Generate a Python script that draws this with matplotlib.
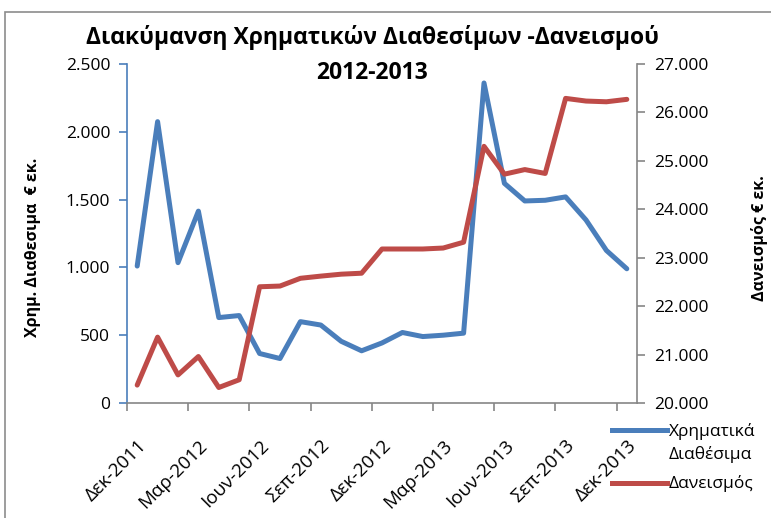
import matplotlib
matplotlib.use("Agg")
import matplotlib.pyplot as plt
import numpy as np
from matplotlib.ticker import FuncFormatter, FixedLocator, FixedFormatter, NullFormatter
from matplotlib.lines import Line2D
from matplotlib.patches import Rectangle

plt.rcParams['font.family'] = ['Open Sans', 'DejaVu Sans']

months = ["Δεκ-2011", "Ιαν-2012", "Φεβ-2012", "Μαρ-2012", "Απρ-2012", "Μαϊ-2012",
          "Ιουν-2012", "Ιουλ-2012", "Αυγ-2012", "Σεπ-2012", "Οκτ-2012", "Νοε-2012",
          "Δεκ-2012", "Ιαν-2013", "Φεβ-2013", "Μαρ-2013", "Απρ-2013", "Μαϊ-2013",
          "Ιουν-2013", "Ιουλ-2013", "Αυγ-2013", "Σεπ-2013", "Οκτ-2013", "Νοε-2013",
          "Δεκ-2013"]
cash = [1010, 2075, 1035, 1415, 630, 645, 365, 328, 600, 575, 455, 385, 443,
        520, 490, 500, 515, 2360, 1620, 1490, 1495, 1520, 1350, 1125, 990]
loans = [20370, 21360, 20580, 20960, 20320, 20480, 22400, 22415, 22575, 22620,
         22660, 22680, 23180, 23180, 23180, 23200, 23320, 25300, 24725, 24820,
         24740, 26290, 26235, 26220, 26270]
tick_labels = ["Δεκ-2011", "Μαρ-2012", "Ιουν-2012", "Σεπ-2012", "Δεκ-2012",
               "Μαρ-2013", "Ιουν-2013", "Σεπ-2013", "Δεκ-2013"]
series_names = ["Χρηματικά\nΔιαθέσιμα", "Δανεισμός"]

blue = "#4A7EBB"
red = "#BE4B48"
gray = "#868686"

W, H = 771, 518
fig = plt.figure(figsize=(W / 100, H / 100), dpi=100)

# chart area border
fig.add_artist(Rectangle((5 / W, -0.1), 1.2, 1.1 - 12 / H, transform=fig.transFigure,
                         fill=False, edgecolor="#8c8c8c", lw=1.2))

ax = fig.add_axes([127 / W, 1 - 403 / H, 510 / W, 339 / H])
ax2 = ax.twinx()

x = np.arange(len(months))
ax.plot(x, cash, color=blue, lw=3.6, solid_joinstyle="round", solid_capstyle="round")
ax2.plot(x, loans, color=red, lw=3.6, solid_joinstyle="round", solid_capstyle="round")

ax.set_xlim(-0.5, len(months) - 0.5)
ax.set_ylim(0, 2500)
ax2.set_ylim(20000, 27000)

fmt = FuncFormatter(lambda v, p: f"{v:,.0f}".replace(",", "."))
ax.yaxis.set_major_locator(FixedLocator(np.arange(0, 2501, 500)))
ax.yaxis.set_major_formatter(fmt)
ax2.yaxis.set_major_locator(FixedLocator(np.arange(20000, 27001, 1000)))
ax2.yaxis.set_major_formatter(fmt)

# tick marks at month boundaries, labels at month centres
label_pos = [months.index(t) for t in tick_labels]
tick_pos = [p - 0.5 for p in label_pos]
ax.xaxis.set_major_locator(FixedLocator(tick_pos))
ax.xaxis.set_major_formatter(NullFormatter())
ax.xaxis.set_minor_locator(FixedLocator(label_pos))
ax.xaxis.set_minor_formatter(FixedFormatter(tick_labels))
for lab in ax.xaxis.get_minorticklabels():
    lab.set_rotation(45)
    lab.set_ha("right")
    lab.set_va("top")
    lab.set_rotation_mode("anchor")
ax.tick_params(axis="x", which="minor", length=0, pad=24, labelsize=13.5)

for a in (ax, ax2):
    a.spines["top"].set_visible(False)
    a.patch.set_visible(False)
ax2.spines["left"].set_visible(False)
ax2.spines["bottom"].set_visible(False)
ax.spines["right"].set_visible(False)
ax.spines["left"].set_color(blue)
ax.spines["left"].set_linewidth(1.2)
ax.spines["bottom"].set_color(gray)
ax.spines["bottom"].set_linewidth(1.2)
ax2.spines["right"].set_color(gray)
ax2.spines["right"].set_linewidth(1.2)

ax.tick_params(axis="y", colors=blue, labelcolor="black", length=6, width=1.2,
               direction="out", labelsize=12.5, pad=6)
ax.tick_params(axis="x", which="major", colors=gray, length=6, width=1.2,
               direction="out")
ax2.tick_params(axis="y", colors=gray, labelcolor="black", length=6, width=1.2,
                direction="out", labelsize=12.5, pad=6)

fig.text(33 / W, 1 - 247 / H, "Χρημ. Διαθεσιμα  € εκ.", rotation=90,
         ha="center", va="center", fontsize=11.5, fontweight="bold")
fig.text(759 / W, 1 - 238 / H, "Δανεισμός € εκ.", rotation=90,
         ha="center", va="center", fontsize=11.5, fontweight="bold")

fig.text(372 / W, 1 - 37 / H, "Διακύμανση Χρηματικών Διαθεσίμων -Δανεισμού",
         ha="center", va="center", fontsize=16.5, fontweight="bold")
fig.text(372 / W, 1 - 73 / H, "2012-2013", ha="center", va="center",
         fontsize=16.5, fontweight="bold")

# legend
for (yl, ylab), col, name in zip([(430, 443), (483, 483)], [blue, red], series_names):
    fig.add_artist(Line2D([612 / W, 667 / W], [1 - yl / H, 1 - yl / H], color=col,
                          lw=3.6, transform=fig.transFigure))
    fig.text(669 / W, 1 - ylab / H, name, ha="left", va="center", fontsize=12.5,
             linespacing=1.45)

fig.savefig("out.png", dpi=100)
